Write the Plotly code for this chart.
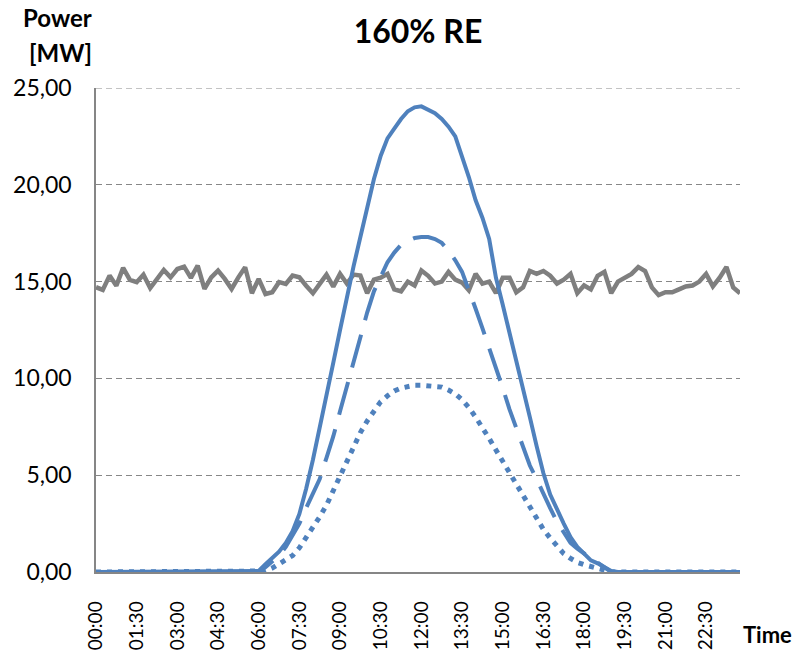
import plotly.graph_objects as go

times = [f"{h:02d}:{m:02d}" for h in range(24) for m in (0, 15, 30, 45)]
tick_labels = ["00:00", "01:30", "03:00", "04:30", "06:00", "07:30", "09:00", "10:30",
               "12:00", "13:30", "15:00", "16:30", "18:00", "19:30", "21:00", "22:30"]
y_ticks = [0, 5, 10, 15, 20, 25]
y_tick_text = ["0,00", "5,00", "10,00", "15,00", "20,00", "25,00"]

load = [14.71, 14.57, 15.31, 14.79, 15.71, 15.09, 14.97, 15.36, 14.67, 15.14,
        15.60, 15.22, 15.65, 15.77, 15.19, 15.83, 14.62, 15.22, 15.57, 15.14,
        14.62, 15.22, 15.74, 14.40, 15.14, 14.36, 14.45, 14.97, 14.88, 15.31,
        15.22, 14.79, 14.40, 14.88, 15.36, 14.74, 15.40, 14.90, 15.36, 15.31,
        14.40, 15.10, 15.20, 15.40, 14.60, 14.50, 15.00, 14.80, 15.57, 15.30,
        14.90, 15.00, 15.50, 15.10, 14.95, 14.55, 15.40, 14.90, 15.00, 14.40,
        15.20, 15.20, 14.45, 14.70, 15.55, 15.40, 15.55, 15.30, 14.90, 15.10,
        15.40, 14.40, 14.80, 14.60, 15.30, 15.50, 14.40, 15.00, 15.20, 15.40,
        15.75, 15.55, 14.70, 14.30, 14.45, 14.45, 14.60, 14.75, 14.80, 15.00,
        15.40, 14.75, 15.20, 15.75, 14.70, 14.40]

pv_high = [0, 0, 0, 0, 0, 0, 0, 0, 0, 0, 0, 0, 0, 0, 0, 0, 0, 0, 0, 0, 0, 0, 0, 0,
           0.05, 0.40, 0.75, 1.05, 1.50, 2.10, 3.00, 4.30, 5.80, 7.40, 9.00, 10.80,
           12.50, 14.20, 15.80, 17.30, 18.90, 20.30, 21.50, 22.40, 22.90, 23.40, 23.80, 24.00,
           24.05, 23.90, 23.70, 23.40, 23.00, 22.50, 21.50, 20.40, 19.20, 18.30, 17.20, 15.20,
           13.80, 12.40, 11.00, 9.50, 8.00, 6.50, 5.10, 4.00, 3.20, 2.50, 1.80, 1.30,
           0.95, 0.60, 0.45, 0.25, 0.05, 0, 0, 0, 0, 0, 0, 0,
           0, 0, 0, 0, 0, 0, 0, 0, 0, 0, 0, 0]

pv_mid = [0, 0, 0, 0, 0, 0, 0, 0, 0, 0, 0, 0, 0, 0, 0, 0, 0, 0, 0, 0, 0, 0, 0, 0,
          0.00, 0.25, 0.55, 0.85, 1.30, 1.90, 2.50, 3.30, 4.10, 4.80, 5.90, 7.00,
          8.30, 9.60, 10.90, 12.20, 13.40, 14.50, 15.30, 16.00, 16.50, 16.90, 17.10, 17.25,
          17.30, 17.30, 17.20, 17.00, 16.60, 16.10, 15.50, 14.60, 13.60, 12.60, 11.60, 10.50,
          9.50, 8.40, 7.40, 6.40, 5.50, 4.80, 4.00, 3.30, 2.60, 2.00, 1.50, 1.20,
          0.95, 0.70, 0.45, 0.20, 0.00, 0, 0, 0, 0, 0, 0, 0,
          0, 0, 0, 0, 0, 0, 0, 0, 0, 0, 0, 0]

pv_low = [0, 0, 0, 0, 0, 0, 0, 0, 0, 0, 0, 0, 0, 0, 0, 0, 0, 0, 0, 0, 0, 0, 0, 0,
          0.00, 0.05, 0.20, 0.40, 0.60, 0.85, 1.25, 1.75, 2.25, 2.85, 3.45, 4.20,
          5.00, 5.80, 6.50, 7.20, 7.80, 8.35, 8.80, 9.10, 9.35, 9.50, 9.60, 9.65,
          9.65, 9.60, 9.60, 9.55, 9.40, 9.20, 8.90, 8.50, 8.00, 7.50, 6.90, 6.30,
          5.70, 5.10, 4.50, 3.90, 3.30, 2.70, 2.20, 1.75, 1.30, 0.95, 0.70, 0.50,
          0.38, 0.28, 0.20, 0.10, 0.00, 0, 0, 0, 0, 0, 0, 0,
          0, 0, 0, 0, 0, 0, 0, 0, 0, 0, 0, 0]

BLUE = "#4F81BD"
GRAY = "#7F7F7F"
GRID = "#878787"
FONT = "Lato"

fig = go.Figure()
fig.add_trace(go.Scatter(x=times, y=load, mode="lines",
                         line=dict(color=GRAY, width=4.5), showlegend=False))
fig.add_trace(go.Scatter(x=times, y=pv_low, mode="lines",
                         line=dict(color=BLUE, width=5, dash="5px,6px"), showlegend=False))
fig.add_trace(go.Scatter(x=times, y=pv_mid, mode="lines",
                         line=dict(color=BLUE, width=4, dash="34px,15px"), showlegend=False))
fig.add_trace(go.Scatter(x=times, y=pv_high, mode="lines",
                         line=dict(color=BLUE, width=4), showlegend=False))

fig.update_layout(
    width=794, height=652,
    margin=dict(l=96, r=54, t=88, b=80),
    paper_bgcolor="white", plot_bgcolor="white",
    font=dict(family=FONT, color="black", size=22),
    title=dict(text="<b>160% RE</b>", x=0.5, xref="paper", y=1 - 32 / 652,
               yref="container", xanchor="center", yanchor="middle",
               font=dict(family=FONT, size=32, color="black")),
)
fig.update_xaxes(
    type="category", range=[0, 95], categoryorder="array", categoryarray=times,
    tickvals=tick_labels, ticktext=tick_labels, tickangle=-90,
    showgrid=False, zeroline=False, showline=True, linecolor="#868686", linewidth=1.5,
    ticks="", tickfont=dict(family=FONT, size=19), ticklabelstandoff=20,
    automargin=False,
)
fig.update_yaxes(
    range=[0, 25], tickvals=y_ticks, ticktext=y_tick_text,
    showgrid=True, gridcolor=GRID, griddash="6px,4px", gridwidth=1,
    zeroline=False, showline=True, linecolor="#868686", linewidth=1.5,
    ticks="inside", ticklen=4, tickcolor="#868686",
    tickfont=dict(family=FONT, size=23), ticklabelstandoff=18,
    automargin=False,
)

# top gridline at the upper limit of the value axis
fig.add_shape(type="line", xref="paper", yref="y", x0=0, x1=1, y0=y_ticks[-1], y1=y_ticks[-1],
              line=dict(color=GRID, width=1, dash="6px,4px"), layer="below")

def px_x(px):
    return (px - 96) / 644

def px_y(py):
    return (572 - py) / 484

fig.add_annotation(text="<b>Power</b>", x=px_x(57), y=px_y(18), xref="paper", yref="paper",
                   showarrow=False, xanchor="center", yanchor="middle",
                   font=dict(family=FONT, size=24, color="black"))
fig.add_annotation(text="<b>[MW]</b>", x=px_x(60), y=px_y(52), xref="paper", yref="paper",
                   showarrow=False, xanchor="center", yanchor="middle",
                   font=dict(family=FONT, size=24, color="black"))
fig.add_annotation(text="<b>Time</b>", x=px_x(767), y=px_y(634), xref="paper", yref="paper",
                   showarrow=False, xanchor="center", yanchor="middle",
                   font=dict(family=FONT, size=22, color="black"))

fig.write_html("out.html")
